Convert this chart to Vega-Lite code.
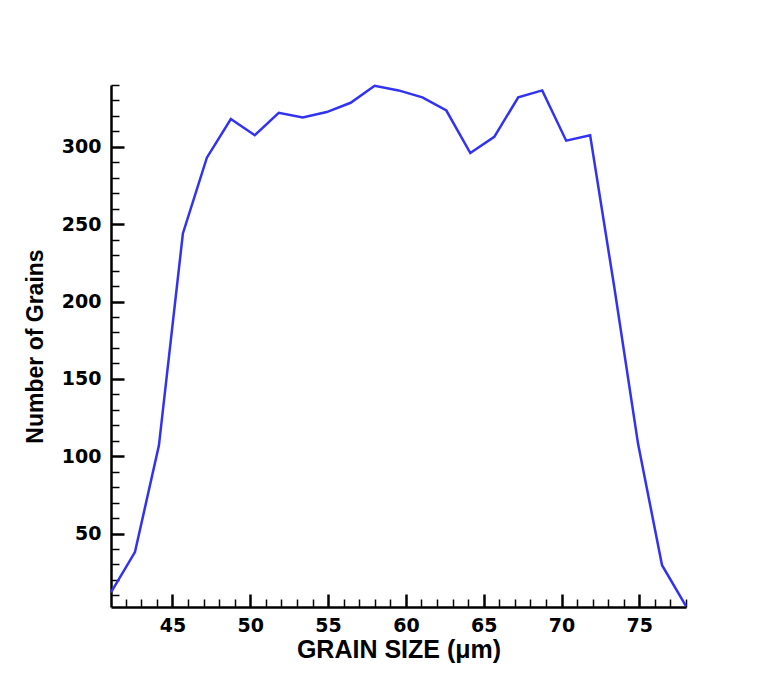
{
  "$schema": "https://vega.github.io/schema/vega-lite/v6.json",
  "width": 575,
  "height": 522,
  "autosize": "none",
  "padding": {"left": 111, "top": 85, "right": 86, "bottom": 72},
  "background": "white",
  "config": {
    "view": {"stroke": null},
    "axis": {
      "grid": false,
      "domainColor": "black",
      "tickColor": "black",
      "labelColor": "black",
      "titleColor": "black",
      "labelFont": "DejaVu Sans",
      "titleFont": "Liberation Sans",
      "labelFontWeight": "bold",
      "titleFontWeight": "bold"
    }
  },
  "data": {
    "values": [
      {"size": 41.05, "count": 12},
      {"size": 42.59, "count": 38},
      {"size": 44.13, "count": 107},
      {"size": 45.67, "count": 244},
      {"size": 47.21, "count": 293},
      {"size": 48.75, "count": 318},
      {"size": 50.29, "count": 307.5},
      {"size": 51.83, "count": 322},
      {"size": 53.37, "count": 319},
      {"size": 54.91, "count": 322.5},
      {"size": 56.45, "count": 328.5},
      {"size": 57.99, "count": 339.5},
      {"size": 59.53, "count": 336.5},
      {"size": 61.06, "count": 332},
      {"size": 62.6, "count": 323.5},
      {"size": 64.14, "count": 296},
      {"size": 65.68, "count": 306.5},
      {"size": 67.22, "count": 332},
      {"size": 68.76, "count": 336.5},
      {"size": 70.3, "count": 304},
      {"size": 71.84, "count": 307.5},
      {"size": 73.38, "count": 210},
      {"size": 74.92, "count": 108},
      {"size": 76.46, "count": 29.5},
      {"size": 78.0, "count": 3}
    ]
  },
  "layer": [
    {
      "mark": {"type": "line", "color": "#3232f2", "strokeWidth": 2.5},
      "encoding": {
        "x": {
          "field": "size", "type": "quantitative",
          "scale": {"domain": [41.05, 78], "nice": false, "zero": false},
          "axis": {
            "orient": "bottom",
            "values": [45, 50, 55, 60, 65, 70, 75],
            "tickSize": -13, "tickWidth": 2.5, "domainWidth": 2.5,
            "labelFontSize": 19, "labelPadding": 22, "labelFlush": false,
            "title": "GRAIN SIZE (μm)", "titleFontSize": 25, "titlePadding": 2
          }
        },
        "y": {
          "field": "count", "type": "quantitative",
          "scale": {"domain": [2.5, 340], "nice": false, "zero": false},
          "axis": {
            "orient": "left",
            "values": [50, 100, 150, 200, 250, 300],
            "tickSize": -13, "tickWidth": 2.5, "domainWidth": 2.5,
            "labelFontSize": 19, "labelPadding": 23, "labelFlush": false,
            "title": "Number of Grains", "titleFontSize": 23, "titlePadding": 14
          }
        }
      }
    },
    {
      "mark": {"type": "line", "opacity": 0},
      "encoding": {
        "x": {
          "field": "size", "type": "quantitative",
          "axis": {
            "orient": "bottom",
            "values": [42, 43, 44, 46, 47, 48, 49, 51, 52, 53, 54, 56, 57, 58, 59, 61, 62, 63, 64, 66, 67, 68, 69, 71, 72, 73, 74, 76, 77, 78],
            "tickSize": -8, "tickWidth": 1.5, "domain": false, "labels": false, "title": null
          }
        },
        "y": {
          "field": "count", "type": "quantitative",
          "axis": {
            "orient": "left",
            "values": [10, 20, 30, 40, 60, 70, 80, 90, 110, 120, 130, 140, 160, 170, 180, 190, 210, 220, 230, 240, 260, 270, 280, 290, 310, 320, 330, 340],
            "tickSize": -8, "tickWidth": 1.5, "domain": false, "labels": false, "title": null
          }
        }
      }
    }
  ],
  "resolve": {"axis": {"x": "independent", "y": "independent"}}
}
